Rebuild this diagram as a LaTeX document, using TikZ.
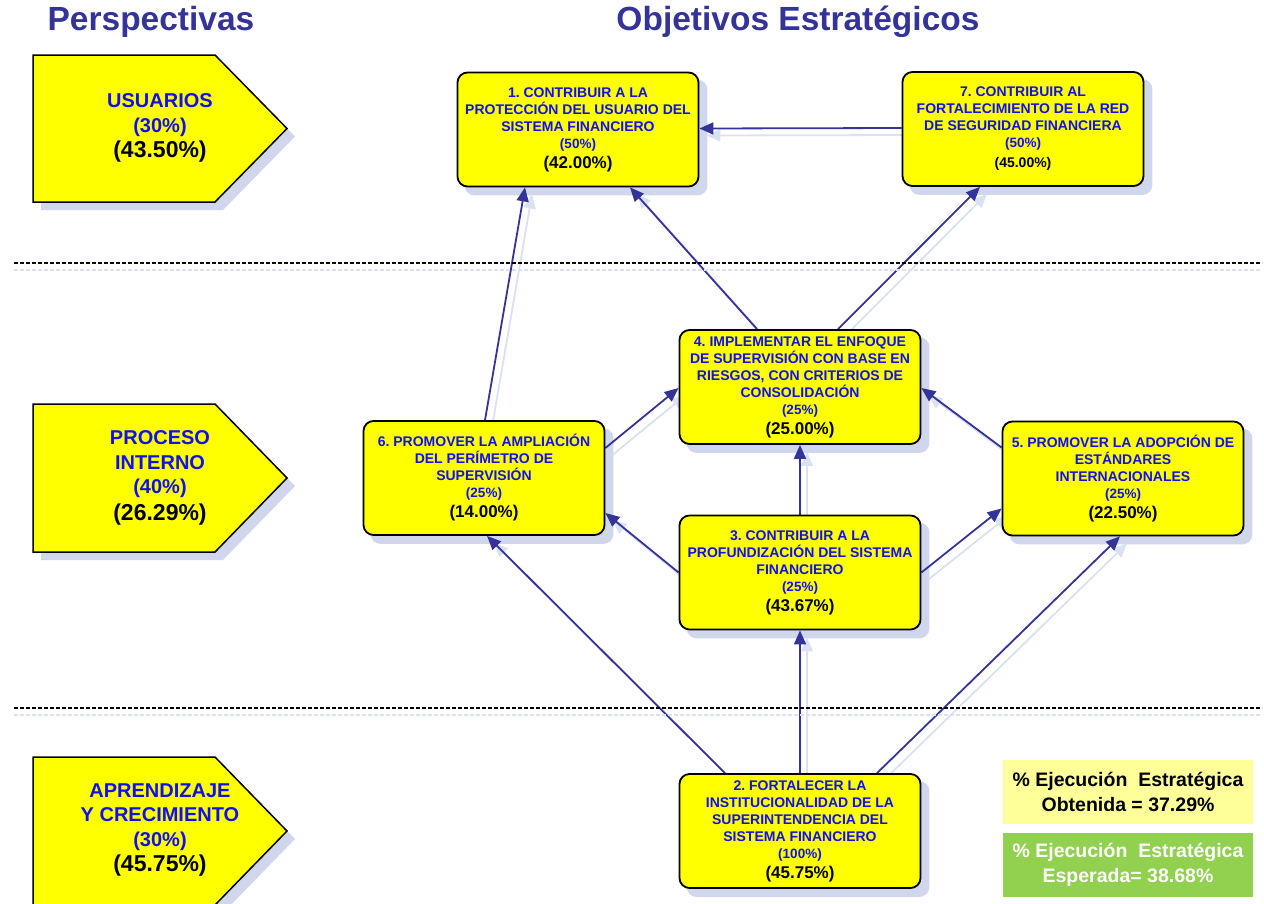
\documentclass[tikz,border=0pt]{standalone}
\usepackage{fontspec}
\setmainfont{Liberation Sans}
\usetikzlibrary{arrows.meta,calc}
\frenchspacing
\definecolor{ttl}{RGB}{51,51,153}
\definecolor{txtblue}{RGB}{15,15,240}
\definecolor{conc}{RGB}{51,51,153}
\definecolor{shdc}{RGB}{208,215,236}
\definecolor{lshd}{RGB}{218,225,242}
\definecolor{ylw}{RGB}{255,255,0}
\definecolor{lylw}{RGB}{255,255,153}
\definecolor{grn}{RGB}{146,208,80}
\pgfdeclarelayer{shadows}
\pgfdeclarelayer{lines}
\pgfsetlayers{shadows,lines,main}
\tikzset{
  objbox/.style={rectangle, rounded corners=10pt, draw=black, line width=1.8pt, fill=ylw,
    minimum width=241pt, minimum height=114pt, inner sep=0pt, align=center, text=txtblue,
    font=\bfseries\fontsize{14}{17}\selectfont},
  pers/.style={draw=black, line width=1.5pt, fill=ylw},
  perstext/.style={align=center, text=txtblue, font=\bfseries\fontsize{20}{24.5}\selectfont},
  ttlstyle/.style={text=ttl, font=\bfseries\fontsize{33.5}{40}\selectfont},
  con/.style={draw=conc, line width=1.8pt, -{Triangle[length=14pt,width=12pt]}},
  shd/.style={draw=lshd, line width=1.8pt, -{Triangle[length=14pt,width=12pt]}},
  sumbox/.style={minimum width=250pt, minimum height=64pt, inner sep=0pt, align=center,
    font=\bfseries\fontsize{19.5}{24.5}\selectfont},
  sepline/.style={line width=1.3pt, dash pattern=on 4pt off 2pt}
}
\newcommand\conn[6]{%
  \draw[shd] ([shift={(#2+7,#3+7)}]#1) -- ([shift={(#5+7,#6+7)}]#4);
  \draw[con] ([shift={(#2,#3)}]#1) -- ([shift={(#5,#6)}]#4);}
\newcommand\lastline[2]{{\color{black}\fontsize{#1}{#1}\selectfont #2}}
\newcommand\pct[1]{{\fontsize{13.5}{13.5}\selectfont #1}}
\begin{document}
\begin{tikzpicture}[x=1pt,y=-1pt]
\useasboundingbox (0,0) rectangle (1264,903);

% titles
\node[ttlstyle] (t1) at (151,22) {Perspectivas};
\node[ttlstyle] (t2) at (798,22) {Objetivos Estratégicos};

% separators
\draw[sepline, draw=lshd] (14,270) -- (1262,270);
\draw[sepline, draw=black] (14,263) -- (1262,263);
\draw[sepline, draw=lshd] (14,715) -- (1262,715);
\draw[sepline, draw=black] (14,708) -- (1262,708);

% perspectives
\fill[shdc, shift={(8,8)}] (33,55) -- (215,55) -- (287,128.5) -- (215,202) -- (33,202) -- cycle;
\draw[pers] (33,55) -- (215,55) -- (287,128.5) -- (215,202) -- (33,202) -- cycle;
\fill[shdc, shift={(8,8)}] (33,404) -- (215,404) -- (287,478) -- (215,552) -- (33,552) -- cycle;
\draw[pers] (33,404) -- (215,404) -- (287,478) -- (215,552) -- (33,552) -- cycle;
\fill[shdc, shift={(8,8)}] (33,757) -- (215,757) -- (287,831) -- (215,905) -- (33,905) -- cycle;
\draw[pers] (33,757) -- (215,757) -- (287,831) -- (215,905) -- (33,905) -- cycle;

\node[perstext] (p1) at (160,128) {USUARIOS\\(30\%)\\[1pt]\lastline{23}{(43.50\%)}};
\node[perstext] (p2) at (160,478) {PROCESO\\INTERNO\\(40\%)\\[2pt]\lastline{23}{(26.29\%)}};
\node[perstext] (p3) at (160,830) {APRENDIZAJE\\Y CRECIMIENTO\\(30\%)\\[1pt]\lastline{23}{(45.75\%)}};

% objectives
\node[objbox] (b1) at (578,129.5) {1. CONTRIBUIR A LA\\PROTECCIÓN DEL USUARIO DEL\\SISTEMA FINANCIERO\\\pct{(50\%)}\\[3pt]\lastline{17}{(42.00\%)}};
\node[objbox] (b7) at (1023,129) {7. CONTRIBUIR AL\\FORTALECIMIENTO DE LA RED\\DE SEGURIDAD FINANCIERA\\\pct{(50\%)}\\[3pt]\lastline{14}{(45.00\%)}};
\node[objbox] (b4) at (800,387) {4. IMPLEMENTAR EL ENFOQUE\\DE SUPERVISIÓN CON BASE EN\\RIESGOS, CON CRITERIOS DE\\CONSOLIDACIÓN\\\pct{(25\%)}\\[3pt]\lastline{17}{(25.00\%)}};
\node[objbox] (b6) at (484,478) {6. PROMOVER LA AMPLIACIÓN\\DEL PERÍMETRO DE\\SUPERVISIÓN\\\pct{(25\%)}\\[3pt]\lastline{17}{(14.00\%)}};
\node[objbox] (b5) at (1123,478.5) {5. PROMOVER LA ADOPCIÓN DE\\ESTÁNDARES\\INTERNACIONALES\\\pct{(25\%)}\\[3pt]\lastline{17}{(22.50\%)}};
\node[objbox] (b3) at (800,572.5) {3. CONTRIBUIR A LA\\PROFUNDIZACIÓN DEL SISTEMA\\FINANCIERO\\\pct{(25\%)}\\[3pt]\lastline{17}{(43.67\%)}};
\node[objbox] (b2) at (800,831) {2. FORTALECER LA\\INSTITUCIONALIDAD DE LA\\SUPERINTENDENCIA DEL\\SISTEMA FINANCIERO\\\pct{(100\%)}\\[3pt]\lastline{17}{(45.75\%)}};

% box shadows
\begin{pgfonlayer}{shadows}
\foreach \b in {b1,b7,b4,b6,b5,b3,b2}{
  \fill[shdc, rounded corners=10pt] ([shift={(8,8)}]\b.north west) rectangle ([shift={(8,8)}]\b.south east);
}
\end{pgfonlayer}

% connectors
\begin{pgfonlayer}{lines}
\conn{b7.west}{0}{-1}{b1.east}{0}{-1}
\conn{b4.north}{-43}{0}{b1.south}{52}{0}
\conn{b4.north}{38}{0}{b7.south}{-43}{0}
\conn{b6.north}{1}{0}{b1.south}{-53}{0}
\conn{b6.east}{0}{-30}{b4.west}{0}{1}
\conn{b5.west}{0}{-31}{b4.east}{0}{1}
\conn{b3.north}{0}{0}{b4.south}{0}{0}
\conn{b3.west}{0}{0}{b6.east}{0}{35}
\conn{b3.east}{0}{0}{b5.west}{0}{30}
\conn{b2.north}{-75}{0}{b6.south}{3}{0}
\conn{b2.north}{0}{0}{b3.south}{0}{0}
\conn{b2.north}{77}{0}{b5.south}{-3}{0}
\end{pgfonlayer}

% summary
\node[sumbox, fill=lylw, text=black] (s1) at (1128,792) {\% Ejecución~ Estratégica\\Obtenida = 37.29\%};
\node[sumbox, fill=grn, text=white] (s2) at (1128,865) {\% Ejecución~ Estratégica\\Esperada= 38.68\%};
\end{tikzpicture}
\end{document}
